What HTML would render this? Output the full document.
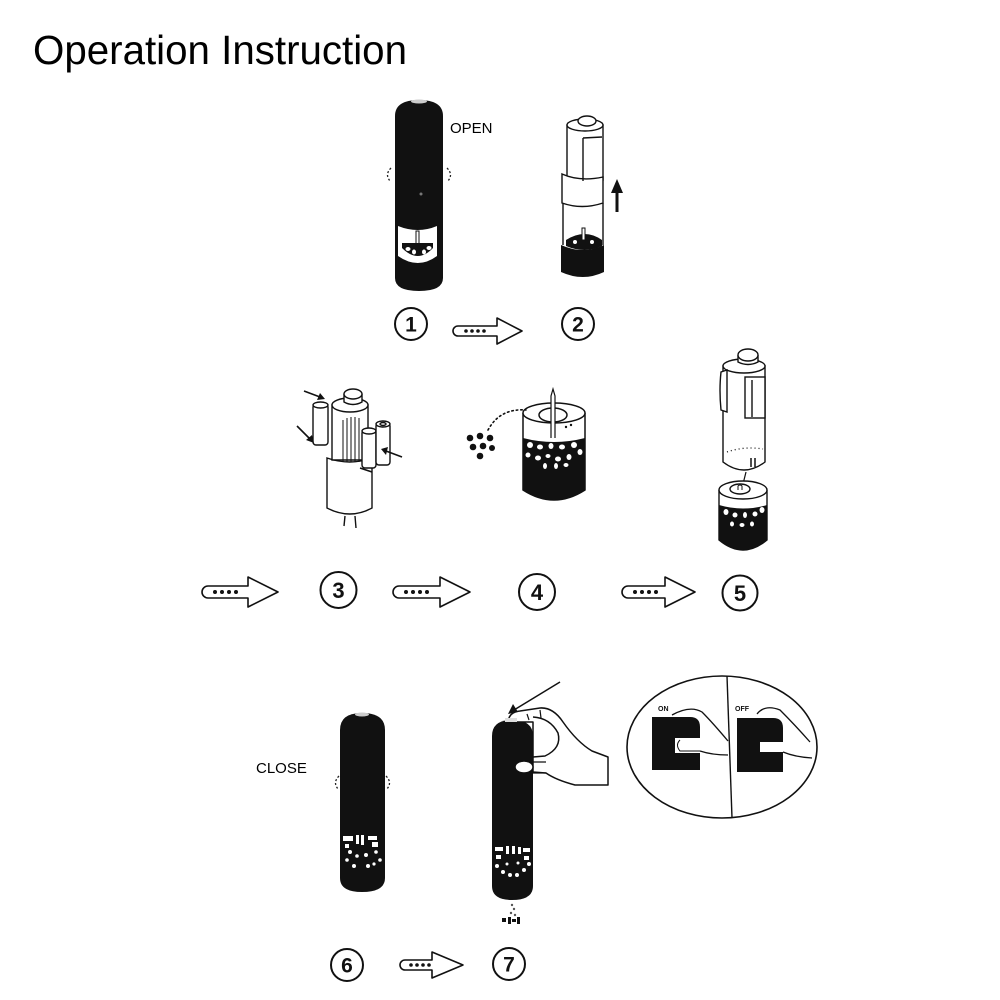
<!DOCTYPE html>
<html><head><meta charset="utf-8"><style>
html,body{margin:0;padding:0;background:#fff;}
svg{display:block;}
text{font-family:"Liberation Sans",Arial,sans-serif;}
</style></head><body>
<svg width="1000" height="1000" viewBox="0 0 1000 1000" xmlns="http://www.w3.org/2000/svg">
<rect width="1000" height="1000" fill="#fff"/>
<text x="33" y="64" font-size="41" textLength="374" lengthAdjust="spacingAndGlyphs" fill="#000">Operation Instruction</text>

<!-- ===== Mill 1 ===== -->
<path d="M395,116 Q395,100 419,100 Q443,100 443,116 L443,278 Q443,291 419,291 Q395,291 395,278 Z" fill="#111"/>
<ellipse cx="419" cy="101.5" rx="8" ry="2" fill="#ccc"/>
<path d="M398,226 Q418,234 437,226 L437,256 Q418,270 398,256 Z" fill="#fff"/>
<rect x="416" y="231" width="3" height="13" fill="#fff" stroke="#111" stroke-width="1"/>
<path d="M402,243 L433,243 L433,248 Q418,264 402,248 Z" fill="#111"/>
<ellipse cx="408" cy="249" rx="2.5" ry="2" fill="#fff"/>
<ellipse cx="414" cy="252" rx="2" ry="2.5" fill="#fff"/>
<ellipse cx="424" cy="252" rx="2" ry="2.5" fill="#fff"/>
<ellipse cx="429" cy="248" rx="2.5" ry="2" fill="#fff"/>
<circle cx="421" cy="194" r="1.5" fill="#777"/>
<path d="M391,168 Q384,175 391,182" fill="none" stroke="#222" stroke-width="1.3" stroke-dasharray="2,2"/>
<path d="M447,168 Q454,175 447,182" fill="none" stroke="#222" stroke-width="1.3" stroke-dasharray="2,2"/>
<text x="450" y="133" font-size="15" fill="#000">OPEN</text>

<!-- ===== Mill 2 ===== -->
<g stroke="#111" stroke-width="1.4" fill="#fff">
<path d="M567,125 L567,180 L603,180 L603,125 Z"/>
<ellipse cx="585" cy="125" rx="18" ry="6"/>
<ellipse cx="587" cy="121" rx="9" ry="5"/>
<path d="M562,174 Q580,182 603,177 L603,203 Q582,210 562,203 Z"/>
<path d="M563,203 L563,245 M603,203 L603,245" fill="none"/>
<path d="M583,138 L583,181 M583,138 L602,137" fill="none"/>
</g>
<path d="M566,240 Q585,228 602,240 L602,246 Q585,254 566,246 Z" fill="#111"/>
<path d="M561,245 Q583,255 604,245 L604,272 Q583,282 561,272 Z" fill="#111"/>
<rect x="582" y="228" width="3" height="12" fill="#fff" stroke="#111" stroke-width="1"/>
<ellipse cx="575" cy="242" rx="2" ry="2" fill="#fff"/>
<ellipse cx="592" cy="242" rx="2" ry="2" fill="#fff"/>
<path d="M617,212 L617,190" stroke="#111" stroke-width="3"/>
<path d="M611,193 L623,193 L617,179 Z" fill="#111"/>

<!-- circles row 1 -->
<g fill="#fff" stroke="#111" stroke-width="2">
<circle cx="411" cy="324" r="16"/>
<circle cx="578" cy="324" r="16"/>
</g>
<g font-size="21" font-weight="bold" text-anchor="middle" fill="#111">
<text x="411" y="331.5">1</text>
<text x="578" y="331.5">2</text>
</g>

<!-- arrows -->
<g fill="#fff" stroke="#111" stroke-width="1.6" stroke-linejoin="round">
<path d="M458,326 L497,326 L497,318 L522,331 L497,344 L497,336 L458,336 A5,5 0 0 1 458,326 Z"/>
<path d="M208,586 L248,586 L248,577 L278,592 L248,607 L248,598 L208,598 A6,6 0 0 1 208,586 Z"/>
<path d="M399,586 L440,586 L440,577 L470,592 L440,607 L440,598 L399,598 A6,6 0 0 1 399,586 Z"/>
<path d="M628,586 L665,586 L665,577 L695,592 L665,607 L665,598 L628,598 A6,6 0 0 1 628,586 Z"/>
<path d="M405,960 L432,960 L432,952 L463,965 L432,978 L432,970 L405,970 A5,5 0 0 1 405,960 Z"/>
</g>
<g fill="#111">
<circle cx="466" cy="331" r="1.8"/><circle cx="472" cy="331" r="1.8"/><circle cx="478" cy="331" r="1.8"/><circle cx="484" cy="331" r="1.8"/>
<circle cx="215" cy="592" r="2"/><circle cx="222" cy="592" r="2"/><circle cx="229" cy="592" r="2"/><circle cx="236" cy="592" r="2"/>
<circle cx="406" cy="592" r="2"/><circle cx="413" cy="592" r="2"/><circle cx="420" cy="592" r="2"/><circle cx="427" cy="592" r="2"/>
<circle cx="635" cy="592" r="2"/><circle cx="642" cy="592" r="2"/><circle cx="649" cy="592" r="2"/><circle cx="656" cy="592" r="2"/>
<circle cx="411" cy="965" r="1.8"/><circle cx="417" cy="965" r="1.8"/><circle cx="423" cy="965" r="1.8"/><circle cx="429" cy="965" r="1.8"/>
</g>

<!-- ===== Mill 3 (batteries) ===== -->
<g stroke="#111" stroke-width="1.4" fill="#fff">
<path d="M327,458 L327,508 Q350,520 372,508 L372,458 Q350,466 327,458 Z"/>
<path d="M332,405 L332,460 L368,460 L368,405 Z"/>
<ellipse cx="350" cy="405" rx="18" ry="7"/>
<path d="M344,394 L344,402 Q353,407 362,402 L362,394" />
<ellipse cx="353" cy="394" rx="9" ry="5"/>
<path d="M343,420 L343,462 M347,418 L347,462 M351,417 L351,462 M355,417 L355,462 M359,418 L359,462" fill="none" stroke-width="1"/>
<rect x="313" y="404" width="15" height="41" rx="3"/>
<ellipse cx="320.5" cy="405" rx="7.5" ry="3"/>
<rect x="362" y="430" width="14" height="38" rx="3"/>
<ellipse cx="369" cy="431" rx="7" ry="3"/>
<rect x="376" y="423" width="14" height="42" rx="3"/>
<ellipse cx="383" cy="424" rx="7" ry="3"/>
<ellipse cx="383" cy="424" rx="3" ry="1.5"/>
<path d="M345,516 L344,526 M355,516 L356,528" fill="none"/>
</g>
<g stroke="#111" stroke-width="1.6">
<line x1="304" y1="391" x2="320" y2="397"/>
<line x1="297" y1="426" x2="310" y2="439"/>
<line x1="402" y1="457" x2="386" y2="451"/>
<line x1="360" y1="468" x2="372" y2="472"/>
</g>
<g fill="#111">
<path d="M325,399 L317,400 L320,393 Z"/>
<path d="M314,443 L306,440 L312,435 Z"/>
<path d="M381,449 L388,447 L386,455 Z"/>
</g>

<!-- ===== Mill 4 ===== -->
<path d="M523,413 L523,490 Q554,510 585,490 L585,413" fill="#fff" stroke="#111" stroke-width="1.5"/>
<path d="M523,438 Q554,446 585,438 L585,490 Q554,510 523,490 Z" fill="#111"/>
<g fill="#fff">
<ellipse cx="530" cy="445" rx="3" ry="3"/><ellipse cx="540" cy="447" rx="3" ry="2.5"/>
<ellipse cx="551" cy="446" rx="2.5" ry="3"/><ellipse cx="562" cy="447" rx="3" ry="2.5"/>
<ellipse cx="574" cy="445" rx="3" ry="3"/><ellipse cx="580" cy="452" rx="2.5" ry="3"/>
<ellipse cx="528" cy="455" rx="2.5" ry="2.5"/><ellipse cx="538" cy="458" rx="3" ry="2.5"/>
<ellipse cx="548" cy="456" rx="2.5" ry="2"/><ellipse cx="558" cy="459" rx="3" ry="2.5"/>
<ellipse cx="569" cy="457" rx="2.5" ry="3"/><ellipse cx="545" cy="466" rx="2" ry="3"/>
<ellipse cx="556" cy="466" rx="2" ry="3"/><ellipse cx="566" cy="465" rx="2.5" ry="2"/>
</g>
<ellipse cx="554" cy="413" rx="31" ry="10" fill="#fff" stroke="#111" stroke-width="1.5"/>
<ellipse cx="553" cy="415" rx="14" ry="7" fill="#fff" stroke="#111" stroke-width="1.5"/>
<path d="M551,438 L551,396 L553,389 L555,396 L555,438" fill="#fff" stroke="#111" stroke-width="1.2"/>
<circle cx="566" cy="427" r="1.2" fill="#111"/><circle cx="571" cy="425" r="1.2" fill="#111"/>
<path d="M488,430 Q500,408 526,410" fill="none" stroke="#111" stroke-width="1.6" stroke-dasharray="1.5,3" stroke-linecap="round"/>
<g fill="#111">
<circle cx="470" cy="438" r="3.3"/><circle cx="480" cy="436" r="3.3"/><circle cx="490" cy="438" r="3.3"/>
<circle cx="473" cy="447" r="3.3"/><circle cx="483" cy="446" r="3.3"/><circle cx="492" cy="448" r="3"/>
<circle cx="480" cy="456" r="3.3"/>
</g>

<!-- circles row 2 -->
<g fill="#fff" stroke="#111" stroke-width="2">
<circle cx="338.5" cy="590" r="18"/>
<circle cx="537" cy="592" r="18"/>
<circle cx="740" cy="593" r="17.5"/>
</g>
<g font-size="22" font-weight="bold" text-anchor="middle" fill="#111">
<text x="338.5" y="598">3</text>
<text x="537" y="600">4</text>
<text x="740" y="601">5</text>
</g>

<!-- ===== Mill 5 ===== -->
<g stroke="#111" stroke-width="1.4" fill="#fff">
<path d="M723,366 L723,462 Q744,478 765,462 L765,366 Z"/>
<ellipse cx="744" cy="366" rx="21" ry="7"/>
<path d="M738,355 L738,362 Q748,367 758,362 L758,355"/>
<ellipse cx="748" cy="355" rx="10" ry="6"/>
<path d="M721,372 Q719,390 721,410 L727,412 L727,370 Z"/>
<rect x="745" y="377" width="20" height="41"/>
<path d="M752,380 L752,417" fill="none"/>
</g>
<path d="M727,452 Q744,446 763,449" fill="none" stroke="#111" stroke-width="1.3" stroke-dasharray="1,3"/>
<path d="M751,458 L751,467 M755,458 L755,467" stroke="#111" stroke-width="1.5"/>
<line x1="746" y1="472" x2="743" y2="484" stroke="#111" stroke-width="1.2"/>
<path d="M719,490 L719,540 Q743,560 767,540 L767,490" fill="#fff" stroke="#111" stroke-width="1.4"/>
<path d="M719,505 Q743,512 767,505 L767,540 Q743,560 719,540 Z" fill="#111"/>
<g fill="#fff">
<ellipse cx="726" cy="512" rx="2.5" ry="3"/><ellipse cx="735" cy="515" rx="2.5" ry="2.5"/>
<ellipse cx="745" cy="515" rx="2" ry="3"/><ellipse cx="755" cy="514" rx="2.5" ry="2.5"/>
<ellipse cx="762" cy="510" rx="2.5" ry="3"/><ellipse cx="732" cy="524" rx="2" ry="2.5"/>
<ellipse cx="742" cy="525" rx="2.5" ry="2"/><ellipse cx="752" cy="524" rx="2" ry="2.5"/>
</g>
<ellipse cx="743" cy="490" rx="24" ry="9" fill="#fff" stroke="#111" stroke-width="1.4"/>
<ellipse cx="740" cy="489" rx="10" ry="5" fill="#fff" stroke="#111" stroke-width="1.4"/>
<path d="M738,490 L738,486 Q740,484 742,486 L742,490" fill="none" stroke="#111" stroke-width="1"/>

<!-- ===== Mill 6 ===== -->
<path d="M340,730 Q340,713 362,713 Q385,713 385,730 L385,878 Q385,892 362,892 Q340,892 340,878 Z" fill="#111"/>
<ellipse cx="362" cy="714.5" rx="7" ry="2" fill="#ccc"/>
<g fill="#fff">
<rect x="343" y="836" width="10" height="5"/><rect x="356" y="835" width="3" height="9"/>
<rect x="361" y="835" width="3" height="10"/><rect x="368" y="836" width="9" height="4"/>
<rect x="345" y="844" width="4" height="4"/><rect x="372" y="842" width="6" height="5"/>
<circle cx="350" cy="852" r="2"/><circle cx="357" cy="856" r="1.8"/><circle cx="366" cy="855" r="2"/>
<circle cx="376" cy="852" r="1.8"/><circle cx="380" cy="860" r="1.8"/><circle cx="347" cy="860" r="1.8"/>
<circle cx="354" cy="866" r="2"/><circle cx="368" cy="866" r="2"/><circle cx="374" cy="864" r="1.6"/>
</g>
<path d="M339,776 Q332,783 339,790" fill="none" stroke="#222" stroke-width="1.3" stroke-dasharray="2,2"/>
<path d="M386,776 Q393,783 386,790" fill="none" stroke="#222" stroke-width="1.3" stroke-dasharray="2,2"/>
<text x="256" y="773" font-size="15" fill="#000">CLOSE</text>

<!-- ===== Mill 7 ===== -->
<path d="M492,736 Q492,720 512,720 Q533,720 533,736 L533,886 Q533,900 512,900 Q492,900 492,886 Z" fill="#111"/>
<g fill="#fff">
<rect x="495" y="847" width="8" height="4"/><rect x="506" y="846" width="3" height="8"/>
<rect x="512" y="846" width="3" height="8"/><rect x="518" y="847" width="3" height="7"/>
<rect x="523" y="848" width="7" height="4"/><rect x="496" y="855" width="5" height="4"/>
<rect x="524" y="856" width="5" height="4"/>
<circle cx="497" cy="866" r="2"/><circle cx="503" cy="872" r="2"/><circle cx="510" cy="875" r="2"/>
<circle cx="517" cy="875" r="2"/><circle cx="524" cy="870" r="2"/><circle cx="529" cy="864" r="2"/>
<circle cx="507" cy="864" r="1.5"/><circle cx="518" cy="863" r="1.5"/>
</g>
<g fill="#555">
<circle cx="512" cy="905" r="1.2"/><circle cx="514" cy="909" r="1.2"/><circle cx="511" cy="913" r="1.2"/><circle cx="515" cy="915" r="1.2"/>
</g>
<g fill="#111">
<rect x="502" y="918" width="4" height="4"/><rect x="508" y="917" width="3" height="7"/>
<rect x="512" y="919" width="4" height="3"/><rect x="517" y="917" width="3" height="7"/>
</g>
<!-- hand -->
<path d="M508,722 Q509,712 520,711 L540,708 Q553,707 563,722 Q577,742 592,751 L608,757 L608,785 L575,785 Q556,780 546,773 L533,772 L533,722 Z" fill="#fff" stroke="#111" stroke-width="1.5" stroke-linejoin="round"/>
<path d="M533,717 Q550,718 558,733 Q562,748 545,756 L533,757" fill="none" stroke="#111" stroke-width="1.5"/>
<path d="M527,714 L529,720 M540,710 L541,718" stroke="#111" stroke-width="1.2"/>
<ellipse cx="524" cy="767" rx="9" ry="6" fill="#fff" stroke="#111" stroke-width="1.5"/>
<path d="M530,762 L546,762 M530,773 L546,773" stroke="#111" stroke-width="1.3"/>
<rect x="505" y="718" width="12" height="4" fill="#ddd"/>
<line x1="560" y1="682" x2="514" y2="710" stroke="#111" stroke-width="1.5"/>
<path d="M508,714 L513,704 L518,712 Z" fill="#111"/>

<!-- circles row 3 -->
<g fill="#fff" stroke="#111" stroke-width="2">
<circle cx="347" cy="965" r="16"/>
<circle cx="509" cy="964" r="16"/>
</g>
<g font-size="21" font-weight="bold" text-anchor="middle" fill="#111">
<text x="347" y="972.5">6</text>
<text x="509" y="971.5">7</text>
</g>

<!-- ===== ON/OFF oval ===== -->
<ellipse cx="722" cy="747" rx="95" ry="71" fill="#fff" stroke="#111" stroke-width="1.6"/>
<path d="M727,676 L732,818" stroke="#111" stroke-width="1.4"/>
<path d="M652,717 L690,717 Q700,717 700,727 L700,738 L675,738 L675,753 L700,753 L700,770 L652,770 Z" fill="#111"/>
<path d="M737,718 L773,718 Q783,718 783,728 L783,742 L760,742 L760,752 L783,752 L783,772 L737,772 Z" fill="#111"/>
<path d="M672,715 Q690,705 702,712 Q712,722 728,741" fill="none" stroke="#111" stroke-width="1.3"/>
<path d="M700,751 Q712,755 728,755" fill="none" stroke="#111" stroke-width="1.3"/>
<path d="M680,740 Q675,745 680,751 L700,751" fill="none" stroke="#111" stroke-width="1"/>
<path d="M757,714 Q765,704 780,710 Q795,725 810,742" fill="none" stroke="#111" stroke-width="1.3"/>
<path d="M783,752 Q795,757 812,758" fill="none" stroke="#111" stroke-width="1.3"/>
<path d="M765,746 L770,746 M772,746 L776,746" stroke="#fff" stroke-width="1.5"/>
<text x="658" y="711" font-size="7" font-weight="bold" fill="#111">ON</text>
<text x="735" y="711" font-size="7" font-weight="bold" fill="#111">OFF</text>
</svg>
</body></html>
